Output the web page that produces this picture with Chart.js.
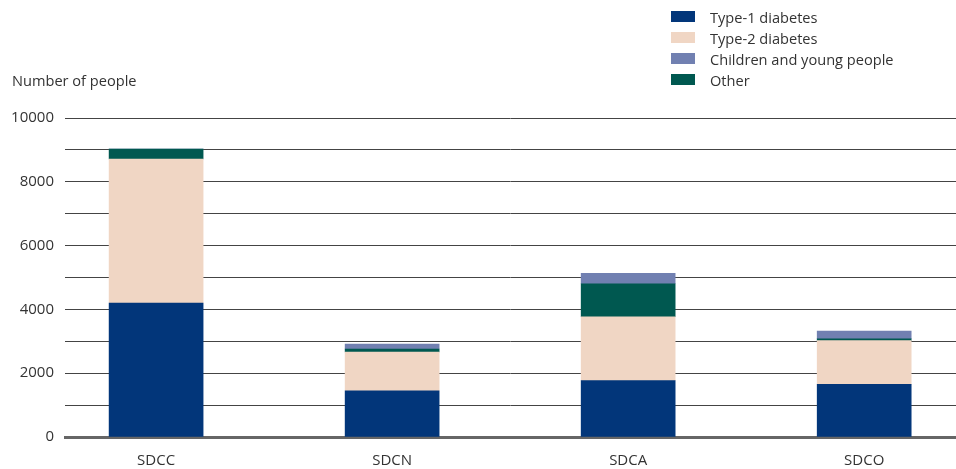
<!DOCTYPE html>
<html lang="en">
<head>
    <meta charset="UTF-8">
    <title>Number of people by centre</title>
    <script src="https://cdn.jsdelivr.net/npm/chart.js"></script>
    <style>
        body {
            margin: 0;
            padding: 0;
            background: #ffffff;
            font-family: 'Open Sans', 'Noto Sans', sans-serif;
            color: #333333;
        }

        .wrap {
            position: relative;
            width: 956px;
            height: 469px;
        }

        .y-title {
            position: absolute;
            left: 12px;
            top: 70px;
            font-size: 14.6px;
            color: #333333;
        }

        .legend {
            position: absolute;
            left: 671px;
            top: 6px;
            font-size: 14.6px;
            color: #333333;
        }

        .legend-item {
            display: flex;
            align-items: center;
            height: 21px;
        }

        .legend-box {
            width: 24px;
            height: 11px;
            margin-right: 15px;
        }
    </style>
</head>
<body>
    <div class="wrap">
        <canvas id="chart" width="956" height="469"></canvas>
        <div class="y-title">Number of people</div>
        <div class="legend" id="legend"></div>
    </div>

    <script>
        const categories = ['SDCC', 'SDCN', 'SDCA', 'SDCO'];
        const type1 = [4200, 1450, 1765, 1650];
        const type2 = [4515, 1215, 2005, 1370];
        const other = [310, 95, 1035, 60];
        const children = [0, 155, 325, 240];
        const yTicks = [0, 2000, 4000, 6000, 8000, 10000];

        const colors = {
            type1: '#02367a',
            type2: '#f0d6c4',
            children: '#7180b1',
            other: '#005850'
        };

        // legend order differs from the stacking order
        const legendItems = [
            { label: 'Type-1 diabetes', color: colors.type1 },
            { label: 'Type-2 diabetes', color: colors.type2 },
            { label: 'Children and young people', color: colors.children },
            { label: 'Other', color: colors.other }
        ];

        const legendEl = document.getElementById('legend');
        legendItems.forEach(item => {
            const row = document.createElement('div');
            row.className = 'legend-item';
            row.innerHTML = `<span class="legend-box" style="background:${item.color}"></span><span>${item.label}</span>`;
            legendEl.appendChild(row);
        });

        // the original spreads the bars a bit wider than the plot area,
        // so stretch the category range after layout
        const xRange = {
            id: 'xRange',
            afterLayout(chart) {
                const x = chart.scales.x;
                x._startValue = -0.386;
                x._valueRange = 3.775;
            }
        };

        const font = { family: "'Open Sans', 'Noto Sans', sans-serif", size: 15 };

        const ctx = document.getElementById('chart').getContext('2d');
        new Chart(ctx, {
            type: 'bar',
            data: {
                labels: categories,
                datasets: [
                    { label: 'Type-1 diabetes', data: type1, backgroundColor: colors.type1 },
                    { label: 'Type-2 diabetes', data: type2, backgroundColor: colors.type2 },
                    { label: 'Other', data: other, backgroundColor: colors.other },
                    { label: 'Children and young people', data: children, backgroundColor: colors.children }
                ]
            },
            plugins: [xRange],
            options: {
                responsive: false,
                animation: false,
                layout: {
                    padding: { top: 118, right: 0, bottom: 0, left: 0 }
                },
                plugins: {
                    legend: { display: false },
                    tooltip: { enabled: false }
                },
                datasets: {
                    bar: { barThickness: 94 }
                },
                scales: {
                    x: {
                        stacked: true,
                        afterFit: scale => { scale.height = 32; },
                        grid: { display: false, drawTicks: false },
                        border: { display: true, color: '#666666', width: 3 },
                        ticks: { padding: 15, color: '#333333', font: font }
                    },
                    y: {
                        stacked: true,
                        min: 0,
                        max: 10000,
                        afterFit: scale => { scale.width = 65; },
                        grid: { color: '#444444', lineWidth: 1, drawTicks: false },
                        border: { display: false },
                        ticks: {
                            stepSize: 1000,
                            padding: 11,
                            color: '#333333',
                            font: font,
                            callback: v => yTicks.includes(v) ? v : ''
                        }
                    }
                }
            }
        });
    </script>
</body>
</html>
